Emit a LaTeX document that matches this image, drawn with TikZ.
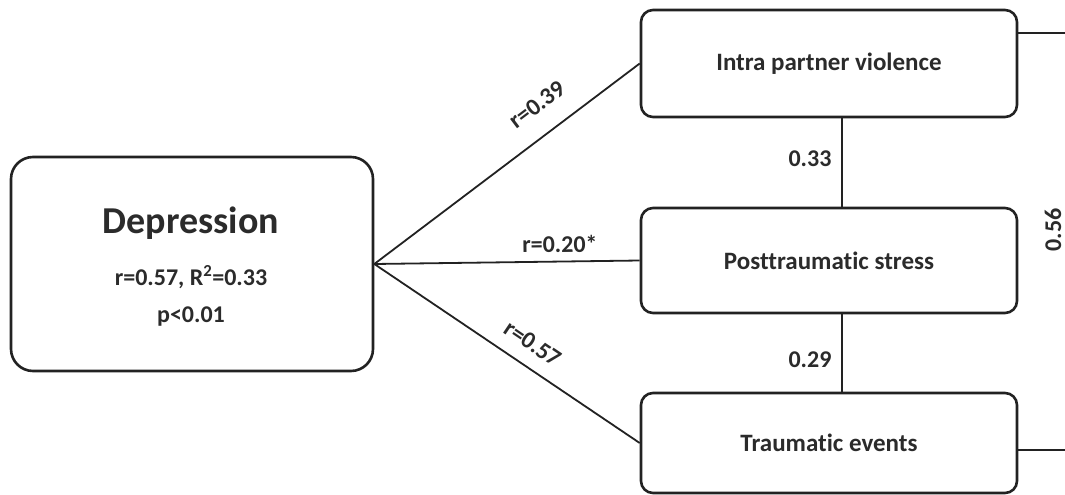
\documentclass[tikz,border=0pt]{standalone}
\usepackage{fontspec}
\setmainfont{Carlito}[Ligatures=NoCommon]
\definecolor{linec}{HTML}{222222}
\definecolor{textc}{HTML}{2B2B2B}
\begin{document}
\begin{tikzpicture}[x=1pt,y=-1pt,
  box/.style={draw=linec, line width=2.6pt, rounded corners=12pt, minimum width=376pt, inner sep=0pt,
              font=\fontsize{25}{30}\selectfont\bfseries, text=textc},
  conn/.style={draw=linec, line width=1.8pt},
  elab/.style={font=\fontsize{24}{28}\selectfont\bfseries, text=textc, inner sep=0pt}]
\useasboundingbox[fill=white] (0,0) rectangle (1065,495);
% boxes
\node[box, minimum width=362pt, minimum height=214pt, rounded corners=22pt] (dep) at (192,264) {};
\node[font=\fontsize{38}{44}\selectfont\bfseries, text=textc, inner sep=0pt] (deptitle) at (191,223) {Depression};
\node[font=\fontsize{24}{28}\selectfont\bfseries, text=textc, inner sep=0pt] (depstat) at (191,277) {r=0.57, R\textsuperscript{2}=0.33};
\node[font=\fontsize{24}{28}\selectfont\bfseries, text=textc, inner sep=0pt] (depp) at (191,317) {p<0.01};
\node[box, minimum height=107pt] (ipv) at (829,63.5) {Intra partner violence};
\node[box, minimum height=105pt] (pts) at (829,260.5) {Posttraumatic stress};
\node[box, minimum height=100pt] (te) at (829,443) {Traumatic events};
% connectors from depression
\draw[conn] (dep.east) -- node[elab, sloped, above=20pt, pos=0.68] (l1) {r=0.39} (ipv.west);
\draw[conn] (dep.east) -- node[elab, sloped, above=8pt, pos=0.70] (l2) {r=0.20*} (pts.west);
\draw[conn] (dep.east) -- node[elab, sloped, above=14pt, pos=0.55] (l3) {r=0.57} (te.west);
% vertical connectors
\coordinate (vx) at (842,0);
\draw[conn] (ipv.south -| vx) -- (pts.north -| vx);
\draw[conn] (pts.south -| vx) -- (te.north -| vx);
\node[elab] (l4) at (810,159) {0.33};
\node[elab] (l5) at (810,360) {0.29};
% right connectors
\coordinate (r1) at (1075,33);
\coordinate (r2) at (1075,450);
\draw[conn] (ipv.east |- r1) -- (r1);
\draw[conn] (te.east |- r2) -- (r2);
\node[elab, rotate=90] (l6) at (1053,230) {0.56};
\end{tikzpicture}
\end{document}
